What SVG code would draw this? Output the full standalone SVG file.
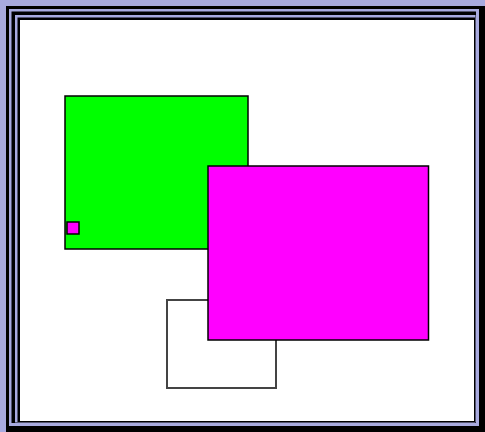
<svg xmlns="http://www.w3.org/2000/svg" width="485" height="432" viewBox="0 0 485 432">
<style>
.lav{fill:#a8aadf}
.blk{fill:#000}
.box{stroke:#000;stroke-width:1.5}
</style>
<g id="frame">
<rect class="lav" x="0" y="0" width="485" height="432"/>
<rect class="blk" x="6" y="6" width="479" height="426"/>
<rect class="lav" x="9" y="9" width="470" height="417"/>
<rect class="blk" x="11.5" y="11.5" width="464.5" height="411.5"/>
<rect class="lav" x="15" y="15" width="460.5" height="407.5"/>
<rect class="blk" x="17.5" y="17.5" width="457.5" height="404.5"/>
<rect fill="#fff" x="20" y="20" width="454" height="401"/>
</g>
<g id="green-rect"><rect class="box" x="65" y="96" width="183" height="153" fill="#00ff00"/></g>
<g id="small-square"><rect class="box" x="67" y="222" width="12" height="12" fill="#ff00ff"/></g>
<g id="white-rect"><rect x="167" y="300" width="109" height="88" fill="#fff" stroke="#444" stroke-width="2"/></g>
<g id="magenta-rect"><rect class="box" x="208" y="166" width="220.5" height="174" fill="#ff00ff"/></g>
<g id="connectors"></g>
</svg>
